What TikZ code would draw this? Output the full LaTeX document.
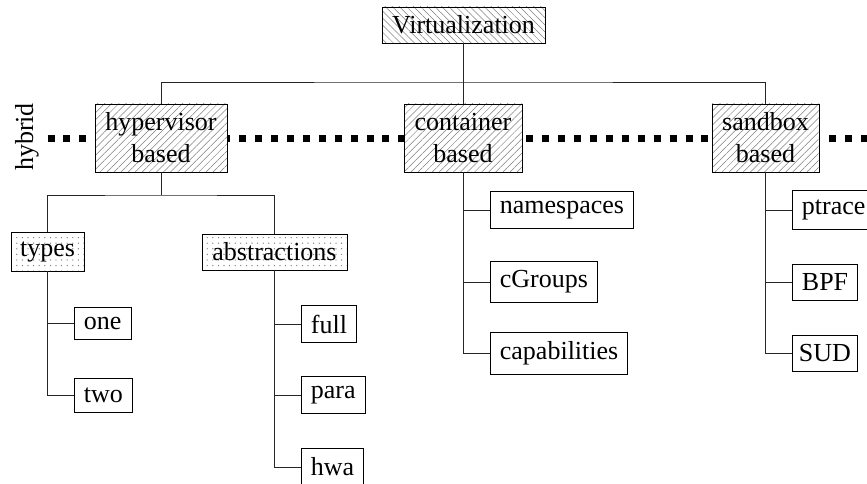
\documentclass[tikz,border=0pt]{standalone}
\usepackage{fontspec}
\setmainfont{Liberation Serif}
\usetikzlibrary{patterns.meta}
\tikzset{
  base/.style={draw=black, line width=0.8pt, font=\fontsize{26}{32}\selectfont},
  hatchbox/.style={base, inner sep=0pt, align=center, preaction={fill=white},
    pattern={Lines[angle=45,distance=5pt,line width=0.5pt]}, pattern color=gray},
  roothatch/.style={base, inner sep=0pt, preaction={fill=white},
    pattern={Lines[angle=-45,distance=5pt,line width=0.5pt]}, pattern color=gray},
  dotbox/.style={base, inner sep=0pt, preaction={fill=white},
    pattern={Dots[distance=5.6pt,radius=0.7pt]}, pattern color=gray},
  leaf/.style={base, inner sep=9.5pt, anchor=west, fill=white},
  conn/.style={line width=0.9pt, draw=black!85},
  hybridline/.style={line width=7pt, dash pattern=on 7pt off 8.95pt}
}
\begin{document}
\begin{tikzpicture}[x=1pt,y=-1pt]
\useasboundingbox (0,0) rectangle (867,484);
\clip (0,0) rectangle (867,484);

% hybrid dotted line
\coordinate (hl) at (47.5,138.5);
\coordinate (hr) at (890,138.5);
\draw[hybridline] (hl) -- (hr);
\node[font=\fontsize{26}{32}\selectfont, rotate=90, inner sep=0pt] (hyb) at (27,137) {hybrid};

% top level
\node[roothatch, minimum width=163pt, minimum height=36pt] (virt) at (463.5,25) {Virtualization};
\node[hatchbox, minimum width=132pt, minimum height=68pt] (hyp) at (161,138) {hypervisor\\based};
\node[hatchbox, minimum width=118pt, minimum height=68pt] (cont) at (463,138) {container\\based};
\node[hatchbox, minimum width=107pt, minimum height=68pt] (sand) at (765.5,138) {sandbox\\based};

\coordinate (b) at (463.5,82);
\draw[conn] (virt.south) -- (b);
\draw[conn] (hyp.north) |- (b) -| (sand.north);
\draw[conn] (cont.north) -- (cont.north |- b);

% hypervisor subtree
\node[dotbox, minimum width=73pt, minimum height=39pt] (types) at (47.5,251.5) {types};
\node[dotbox, minimum width=145pt, minimum height=36pt] (abstr) at (274.5,252) {abstractions};
\coordinate (hb) at (161,195);
\draw[conn] (hyp.south) -- (hb);
\draw[conn] (types.north) |- (hb) -| (abstr.north);

\node[leaf] (one) at (74,323.5) {one};
\node[leaf] (two) at (74,395) {two};
\draw[conn] (types.south) |- (one.west);
\draw[conn] (types.south) |- (two.west);

\node[leaf] (full) at (301,324) {full};
\node[leaf] (para) at (301,395) {para};
\node[leaf] (hwa) at (301,467) {hwa};
\draw[conn] (abstr.south) |- (full.west);
\draw[conn] (abstr.south) |- (para.west);
\draw[conn] (abstr.south) |- (hwa.west);

% container subtree
\node[leaf] (ns) at (490,210) {namespaces};
\node[leaf] (cg) at (490,282) {cGroups};
\node[leaf] (cap) at (490,353.5) {capabilities};
\draw[conn] (cont.south) |- (ns.west);
\draw[conn] (cont.south) |- (cg.west);
\draw[conn] (cont.south) |- (cap.west);

% sandbox subtree
\node[leaf] (pt) at (792,210) {ptrace};
\node[leaf] (bpf) at (792,282) {BPF};
\node[leaf, inner xsep=6.5pt] (sud) at (792,353.5) {SUD};
\draw[conn] (sand.south) |- (pt.west);
\draw[conn] (sand.south) |- (bpf.west);
\draw[conn] (sand.south) |- (sud.west);
\end{tikzpicture}
\end{document}
